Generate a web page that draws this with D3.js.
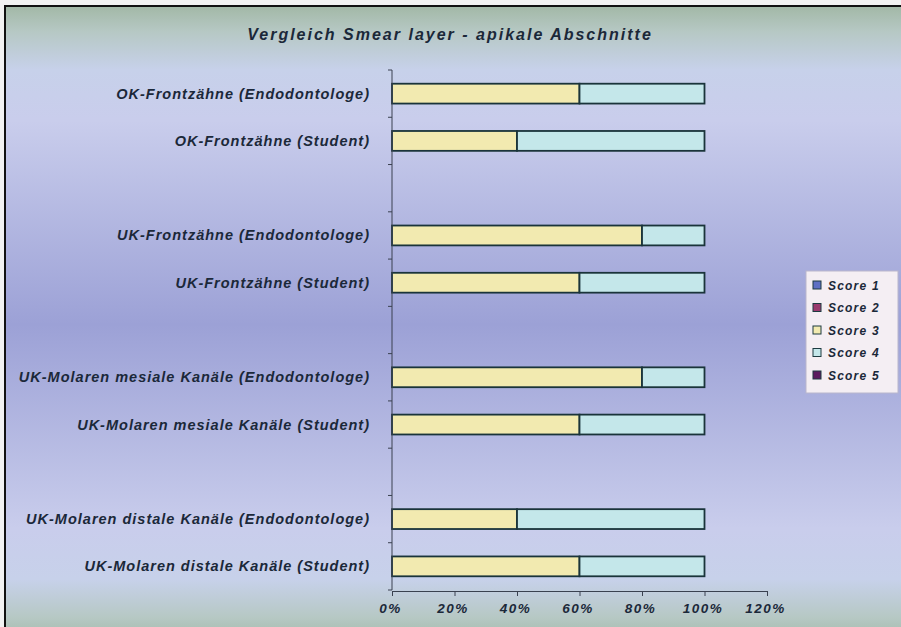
<!DOCTYPE html>
<html>
<head>
<meta charset="utf-8">
<script src="https://cdn.jsdelivr.net/npm/d3@7"></script>
<style>
  html, body { margin: 0; padding: 0; background: #f2f2f2; }
  svg { display: block; }
  text { font-family: "Liberation Sans", Arial, sans-serif; fill: #1b2839; }
</style>
</head>
<body>
<svg id="chart" width="901" height="627"></svg>
<script>
// Rows from top to bottom; null marks an empty spacer row between groups
const categories = [
  "OK-Frontzähne (Endodontologe)",
  "OK-Frontzähne (Student)",
  null,
  "UK-Frontzähne (Endodontologe)",
  "UK-Frontzähne (Student)",
  null,
  "UK-Molaren mesiale Kanäle (Endodontologe)",
  "UK-Molaren mesiale Kanäle (Student)",
  null,
  "UK-Molaren distale Kanäle (Endodontologe)",
  "UK-Molaren distale Kanäle (Student)"
];
const seriesNames = ["Score 1", "Score 2", "Score 3", "Score 4", "Score 5"];
const score1 = [0, 0, null, 0, 0, null, 0, 0, null, 0, 0];
const score2 = [0, 0, null, 0, 0, null, 0, 0, null, 0, 0];
const score3 = [0.6, 0.4, null, 0.8, 0.6, null, 0.8, 0.6, null, 0.4, 0.6];
const score4 = [0.4, 0.6, null, 0.2, 0.4, null, 0.2, 0.4, null, 0.6, 0.4];
const score5 = [0, 0, null, 0, 0, null, 0, 0, null, 0, 0];
const tickValues = [0, 0.2, 0.4, 0.6, 0.8, 1.0, 1.2];
const titleText = "Vergleich Smear layer - apikale Abschnitte";

const seriesColors = ["#5d6fc4", "#9a3a6e", "#f2eab0", "#c4e7ea", "#5a1a5e"];

const rows = categories.map((c, i) => ({
  idx: i, name: c,
  "Score 1": score1[i] || 0, "Score 2": score2[i] || 0, "Score 3": score3[i] || 0,
  "Score 4": score4[i] || 0, "Score 5": score5[i] || 0
}));

const svg = d3.select("#chart");
const W = 901, H = 627;

// Background gradient of the chart area
const defs = svg.append("defs");
const bg = defs.append("linearGradient").attr("id", "bg")
  .attr("x1", 0).attr("y1", 0).attr("x2", 0).attr("y2", 1);
[[0, "#a2b8a6"], [0.04, "#b6c8c4"], [0.1, "#c7d1ea"], [0.18, "#c9cdec"],
 [0.5, "#9ca1d6"], [0.82, "#c9cdec"], [0.9, "#c7d1ea"], [0.96, "#b6c8c4"], [1, "#a2b8a6"]]
  .forEach(([o, c]) => bg.append("stop").attr("offset", o).attr("stop-color", c));

svg.append("rect").attr("x", 5).attr("y", 6).attr("width", W + 10).attr("height", H + 10)
  .attr("fill", "url(#bg)").attr("stroke", "#111").attr("stroke-width", 2);

const plot = { left: 392, right: 767, top: 70, bottom: 590 };

const x = d3.scaleLinear().domain([0, 1.2]).range([plot.left, plot.right]);
const y = d3.scaleBand().domain(d3.range(categories.length))
  .range([plot.top, plot.bottom]).paddingInner(0.58).paddingOuter(0.29);

// Title
svg.append("text").attr("x", 450).attr("y", 40).attr("text-anchor", "middle")
  .attr("font-size", 16).attr("font-weight", "bold").attr("font-style", "italic")
  .attr("letter-spacing", 2)
  .text(titleText);

// Stacked bars
const stacked = d3.stack().keys(seriesNames)(rows.filter(r => r.name !== null));
svg.append("g").selectAll("g").data(stacked).join("g")
  .attr("fill", (d, i) => seriesColors[i])
  .selectAll("rect").data(d => d.filter(s => s[1] - s[0] > 0)).join("rect")
  .attr("x", d => x(d[0]))
  .attr("y", d => y(d.data.idx))
  .attr("width", d => x(d[1]) - x(d[0]))
  .attr("height", y.bandwidth())
  .attr("stroke", "#1a343a").attr("stroke-width", 1.8);

// Category axis (vertical)
const step = y.step();
svg.append("line").attr("x1", plot.left).attr("x2", plot.left)
  .attr("y1", plot.top).attr("y2", plot.bottom).attr("stroke", "#3a4150").attr("stroke-width", 1);
svg.append("g").selectAll("line").data(d3.range(categories.length + 1)).join("line")
  .attr("x1", plot.left - 4).attr("x2", plot.left)
  .attr("y1", i => plot.top + i * step).attr("y2", i => plot.top + i * step)
  .attr("stroke", "#3a4150");

svg.append("g").selectAll("text").data(rows.filter(r => r.name !== null)).join("text")
  .attr("x", 370).attr("y", d => y(d.idx) + y.bandwidth() / 2 + 5)
  .attr("text-anchor", "end").attr("font-size", 14.5).attr("font-style", "italic")
  .attr("font-weight", "bold").attr("letter-spacing", 1.0)
  .text(d => d.name);

// Value axis (bottom)
const xAxis = d3.axisBottom(x).tickValues(tickValues).tickFormat(d3.format(".0%"))
  .tickSize(5).tickSizeOuter(0);
const gx = svg.append("g").attr("transform", `translate(0,${plot.bottom + 1})`).call(xAxis);
gx.select(".domain").attr("stroke", "#3a4150");
gx.selectAll(".tick line").attr("stroke", "#3a4150");
gx.selectAll(".tick text").attr("dy", 0).attr("y", 22).attr("dx", -2)
  .attr("font-size", 13.5).attr("font-style", "italic").attr("font-weight", "bold")
  .attr("letter-spacing", 1.5)
  .attr("font-family", "Liberation Sans, Arial, sans-serif").attr("fill", "#1b2839");

// Legend
const lg = svg.append("g").attr("transform", "translate(806,271)");
lg.append("rect").attr("width", 92).attr("height", 122)
  .attr("fill", "#f4eef3").attr("stroke", "#b9b6cc").attr("stroke-width", 1);
const items = lg.selectAll("g").data(seriesNames).join("g")
  .attr("transform", (d, i) => `translate(7,${14 + i * 22.5})`);
items.append("rect").attr("x", 0).attr("y", -4).attr("width", 8).attr("height", 8)
  .attr("fill", (d, i) => seriesColors[i]).attr("stroke", "#1d3a40").attr("stroke-width", 1);
items.append("text").attr("x", 15).attr("y", 4.5)
  .attr("font-size", 12).attr("font-style", "italic").attr("font-weight", "bold")
  .attr("letter-spacing", 1.2)
  .text(d => d);
</script>
</body>
</html>
